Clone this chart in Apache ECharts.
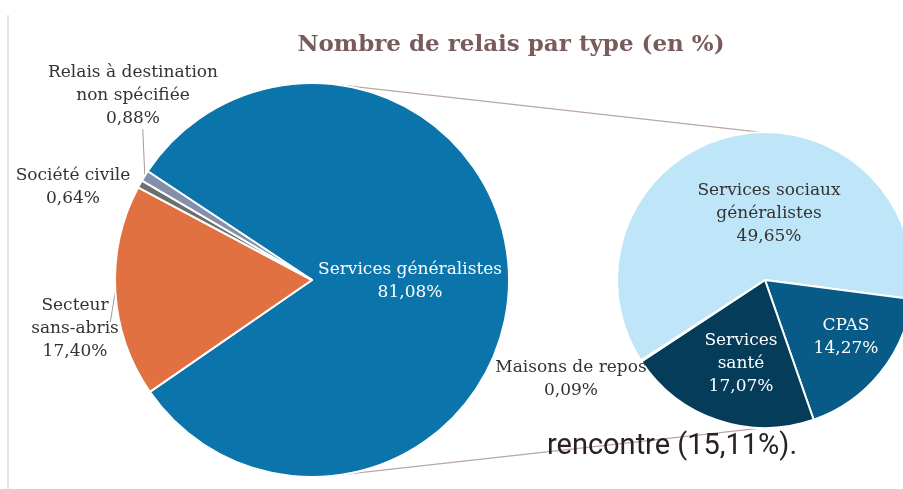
<!DOCTYPE html>
<html>
<head>
<meta charset="utf-8">
<script src="https://cdn.jsdelivr.net/npm/echarts@6/dist/echarts.min.js"></script>
<style>
  html, body { margin: 0; padding: 0; background: #fff; }
  #chart { width: 903px; height: 489px; }
</style>
</head>
<body>
<div id="chart"></div>
<script>
// main pie: all relais by type (%)
const mainNames = ['Services généralistes', 'Secteur\nsans-abris', 'Société civile', 'Relais à destination\nnon spécifiée']
const mainValues = [81.08, 17.40, 0.64, 0.88]
// detail pie: breakdown of "Services généralistes" (% of total)
const detailNames = ['Services sociaux\ngénéralistes', 'CPAS', 'Services\nsanté', 'Maisons de repos']
const detailValues = [49.65, 14.27, 17.07, 0.09]

const mainColors = ['#0b74aa', '#e27141', '#6e6e6e', '#8490ab']
const detailColors = ['#bfe5f8', '#085b86', '#053c5a', '#2b6f96']

// layout
const mainCenter = [312, 280], mainRadius = 197, mainStart = 146.5
const detailCenter = [765, 280], detailRadius = 148, detailStart = 213
const labelSpots = {
  0: [[410, 281], [75, 329], [73, 187], [133, 96]],
  1: [[769, 214], [846, 337], [741, 364], [571, 379]]
}

const serif = 'DejaVu Serif'
const fmt = v => v.toFixed(2).replace('.', ',') + '%'

function polar(c, r, deg) {
  const a = deg * Math.PI / 180
  return [c[0] + r * Math.cos(a), c[1] - r * Math.sin(a)]
}

function buildData(names, values, colors, positions, textColors) {
  return names.map((n, i) => ({
    name: n,
    value: values[i],
    itemStyle: { color: colors[i] },
    label: { position: positions[i], color: textColors[i] },
    labelLine: { show: positions[i] === 'outside' }
  }))
}

const chart = echarts.init(document.getElementById('chart'), null, { renderer: 'canvas' })

const baseLabel = {
  show: true,
  fontFamily: serif,
  fontSize: 17,
  lineHeight: 23,
  align: 'center',
  formatter: p => p.name + '\n' + fmt(p.value)
}

const mainData = buildData(mainNames, mainValues, mainColors,
  ['inside', 'outside', 'outside', 'outside'], ['#fff', '#333', '#333', '#333'])
mainData[2].labelLine.show = false
const detailData = buildData(detailNames, detailValues, detailColors,
  ['inside', 'inside', 'inside', 'outside'], ['#333', '#fff', '#fff', '#333'])
detailData[3].labelLine.show = false

// connector lines between the two pies
const topA = polar(mainCenter, mainRadius, 82.8)
const topB = polar(detailCenter, detailRadius, 92)
const botA = polar(mainCenter, mainRadius, -80.5)
const botB = polar(detailCenter, detailRadius, -76)

function placeLabel(params) {
  const spot = labelSpots[params.seriesIndex][params.dataIndex]
  const out = { x: spot[0], y: spot[1], align: 'center', verticalAlign: 'middle' }
  const pts = params.labelLinePoints
  if (pts && params.seriesIndex === 0) {
    const p0 = pts[0]
    if (params.dataIndex === 3) {
      const end = [p0[0] - 2, spot[1] + 33]
      out.labelLinePoints = [p0, end, end]
    } else if (params.dataIndex === 1) {
      const end = [p0[0] - 5, spot[1] - 7]
      out.labelLinePoints = [p0, end, end]
    }
  }
  return out
}

const option = {
  animation: false,
  title: {
    text: 'Nombre de relais par type (en %)',
    left: 506,
    top: 29,
    textAlign: 'center',
    textStyle: { fontFamily: serif, fontWeight: 'bold', fontSize: 23, color: '#7a5b5b' }
  },
  graphic: [
    { type: 'line', silent: true, shape: { x1: 8, y1: 15, x2: 8, y2: 489 }, style: { stroke: '#dcdcdc', lineWidth: 1.5 } },
    { type: 'line', silent: true, z: 0, shape: { x1: topA[0], y1: topA[1], x2: topB[0], y2: topB[1] }, style: { stroke: '#bba6a6', lineWidth: 1.3 } },
    { type: 'line', silent: true, z: 0, shape: { x1: botA[0], y1: botA[1], x2: botB[0], y2: botB[1] }, style: { stroke: '#bba6a6', lineWidth: 1.3 } },
    {
      type: 'text', silent: true, z: 100, x: 672, y: 447,
      style: { text: 'rencontre (15,11%).', font: '29px Roboto', fill: '#2a2222', align: 'center', verticalAlign: 'middle' }
    }
  ],
  series: [
    {
      type: 'pie',
      center: mainCenter,
      radius: mainRadius,
      startAngle: mainStart,
      clockwise: true,
      avoidLabelOverlap: false,
      silent: true,
      itemStyle: { borderColor: '#fff', borderWidth: 2 },
      label: baseLabel,
      labelLine: { lineStyle: { color: '#a89a9a', width: 1 }, length: 5, length2: 5 },
      labelLayout: placeLabel,
      data: mainData
    },
    {
      type: 'pie',
      center: detailCenter,
      radius: detailRadius,
      startAngle: detailStart,
      clockwise: true,
      avoidLabelOverlap: false,
      silent: true,
      itemStyle: { borderColor: '#fff', borderWidth: 2 },
      label: baseLabel,
      labelLine: { show: false },
      labelLayout: placeLabel,
      data: detailData
    }
  ]
}

chart.setOption(option)
</script>
</body>
</html>
